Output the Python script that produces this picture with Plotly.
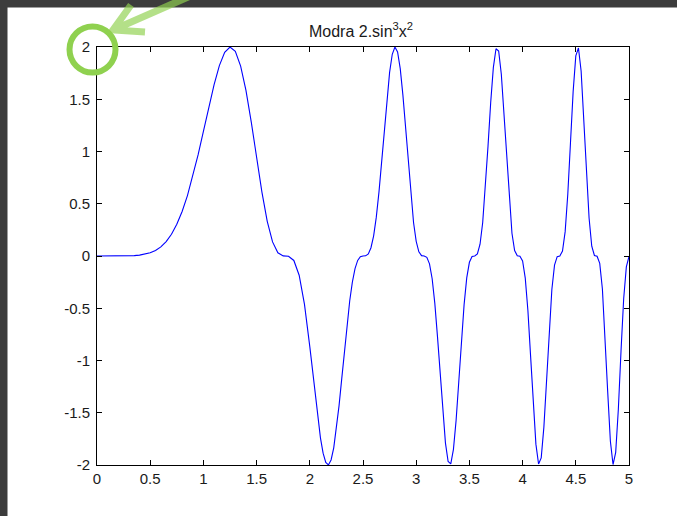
import plotly.graph_objects as go

# ---- data ----
x_left = [0.00, 0.05, 0.10, 0.15, 0.20, 0.25, 0.30, 0.35, 0.40, 0.45,
          0.50, 0.55, 0.60, 0.65, 0.70, 0.75, 0.80, 0.85, 0.90, 0.95,
          1.00, 1.05, 1.10, 1.15, 1.20, 1.25, 1.30, 1.35, 1.40, 1.45,
          1.50, 1.55, 1.60, 1.65, 1.70, 1.75, 1.80, 1.85, 1.90, 1.95, 2.00]
y_left = [0, 0, 0, 0, 0.0001, 0.0005, 0.0015, 0.0037, 0.0081, 0.0163,
          0.0303, 0.0529, 0.0874, 0.1379, 0.2085, 0.3034, 0.4260, 0.5783, 0.7599, 0.9670,
          1.1917, 1.4211, 1.6380, 1.8216, 1.9492, 1.9998, 1.9577, 1.8168, 1.5840, 1.2808,
          0.9421, 0.6113, 0.3316, 0.1348, 0.0309, 0.0010, -0.0019, -0.0426, -0.1840, -0.4626, -0.8669]

x_right = [2.025, 2.05, 2.075, 2.1, 2.125, 2.15, 2.175, 2.2, 2.225, 2.25,
           2.275, 2.3, 2.325, 2.35, 2.375, 2.4, 2.425, 2.45, 2.475, 2.5,
           2.525, 2.55, 2.575, 2.6, 2.625, 2.65, 2.675, 2.7, 2.725, 2.75,
           2.775, 2.8, 2.825, 2.85, 2.875, 2.9, 2.925, 2.95, 2.975, 3.0,
           3.025, 3.05, 3.075, 3.1, 3.125, 3.15, 3.175, 3.2, 3.225, 3.25,
           3.275, 3.3, 3.325, 3.35, 3.375, 3.4, 3.425, 3.45, 3.475, 3.5,
           3.525, 3.55, 3.575, 3.6, 3.625, 3.65, 3.675, 3.7, 3.725, 3.75,
           3.775, 3.8, 3.825, 3.85, 3.875, 3.9, 3.925, 3.95, 3.975, 4.0,
           4.025, 4.05, 4.075, 4.1, 4.125, 4.15, 4.175, 4.2, 4.225, 4.25,
           4.275, 4.3, 4.325, 4.35, 4.375, 4.4, 4.425, 4.45, 4.475, 4.5,
           4.525, 4.55, 4.575, 4.6, 4.625, 4.65, 4.675, 4.7, 4.725, 4.75,
           4.775, 4.8, 4.825, 4.85, 4.875, 4.9, 4.925, 4.95, 4.975, 5.0]
y_right = [-1.0972, -1.3298, -1.5493, -1.7399, -1.8865, -1.9759, -1.9990, -1.9516, -1.8353, -1.6576,
           -1.4320, -1.1760, -0.9102, -0.6554, -0.4304, -0.2495, -0.1203, -0.0425, -0.0077, -0.0001,
           0.0016, 0.0206, 0.0790, 0.1933, 0.3719, 0.6118, 0.8986, 1.2073, 1.5054, 1.7574,
           1.9304, 1.9994, 1.9523, 1.7926, 1.5395, 1.2255, 0.8911, 0.5779, 0.3204, 0.1400,
           0.0397, 0.0036, -0.0001, -0.0125, -0.0747, -0.2177, -0.4536, -0.7713, -1.1361, -1.4956,
           -1.7905, -1.9668, -1.9892, -1.8501, -1.5725, -1.2063, -0.8164, -0.4679, -0.2094, -0.0602,
           -0.0055, 0.0001, 0.0192, 0.1128, 0.3206, 0.6460, 1.0516, 1.4662, 1.8028, 1.9833,
           1.9617, 1.7392, 1.3662, 0.9281, 0.5202, 0.2179, 0.0528, 0.0023, -0.0016, -0.0477,
           -0.2116, -0.5244, -0.9560, -1.4201, -1.8005, -1.9905, -1.9317, -1.6372, -1.1892, -0.7106,
           -0.3201, -0.0871, -0.0059, 0.0008, 0.0473, 0.2332, 0.5953, 1.0832, 1.5732, 1.9144,
           1.9908, 1.7700, 1.3289, 0.8062, 0.3609, 0.0936, 0.0049, -0.0019, -0.0708, -0.3163,
           -0.7588, -1.3028, -1.7733, -1.9953, -1.8785, -1.4643, -0.9092, -0.4094, -0.1037, -0.0046]

x_ticks = [0, 0.5, 1, 1.5, 2, 2.5, 3, 3.5, 4, 4.5, 5]
x_tick_text = ["0", "0.5", "1", "1.5", "2", "2.5", "3", "3.5", "4", "4.5", "5"]
y_ticks = [-2, -1.5, -1, -0.5, 0, 0.5, 1, 1.5, 2]
y_tick_text = ["-2", "-1.5", "-1", "-0.5", "0", "0.5", "1", "1.5", "2"]
title_text = "Modra 2.sin<sup>3</sup>x<sup>2</sup>"

x_vals = x_left + x_right
y_vals = y_left + y_right

# ---- layout geometry ----
W, H = 677, 516
L, R, T, B = 97, 48, 47, 51
PW, PH = W - L - R, H - T - B


def px(xp):
    return (xp - L) / PW


def py(yp):
    return (H - B - yp) / PH


FONT = "Liberation Sans, Arial, sans-serif"

fig = go.Figure()
fig.add_trace(go.Scatter(x=x_vals, y=y_vals, mode="lines",
                         line=dict(color="#0000ff", width=1.1),
                         hoverinfo="skip", showlegend=False))

axis_common = dict(showline=True, linecolor="black", linewidth=1, mirror="ticks",
                   ticks="inside", ticklen=5, tickwidth=1, tickcolor="black",
                   showgrid=False, zeroline=False,
                   tickfont=dict(family=FONT, size=15, color="#1a1a1a"))

fig.update_xaxes(range=[0, 5], tickvals=x_ticks, ticktext=x_tick_text,
                 ticklabelstandoff=0, **axis_common)
fig.update_yaxes(range=[-2, 2], tickvals=y_ticks, ticktext=y_tick_text,
                 ticklabelstandoff=3, **axis_common)

shapes = [
    # dark screenshot borders
    dict(type="rect", xref="paper", yref="paper", x0=px(0), x1=px(W), y0=py(7.5), y1=py(0),
         fillcolor="#3c3c3c", line=dict(width=0), layer="above"),
    dict(type="rect", xref="paper", yref="paper", x0=px(0), x1=px(7.5), y0=py(H), y1=py(0),
         fillcolor="#3c3c3c", line=dict(width=0), layer="above"),
    # green highlight circle
    dict(type="circle", xref="paper", yref="paper",
         x0=px(92.5 - 23), x1=px(92.5 + 23), y0=py(49.5 + 23), y1=py(49.5 - 23),
         line=dict(color="rgb(143,209,79)", width=6), layer="above"),
    # green arrow
    dict(type="path", xref="paper", yref="paper",
         path=(f"M {px(131)},{py(5)} L {px(113)},{py(30)} L {px(145)},{py(32)} "
               f"M {px(113)},{py(30)} L {px(195)},{py(-6)}"),
         line=dict(color="rgba(145,209,80,0.68)", width=7), layer="above"),
]

fig.update_layout(
    width=W, height=H,
    margin=dict(l=L, r=R, t=T, b=B, pad=0),
    paper_bgcolor="white", plot_bgcolor="white",
    title=dict(text=title_text, x=px(361), xanchor="center", xref="paper",
               y=1 - 31 / H, yanchor="middle", yref="container",
               font=dict(family=FONT, size=16, color="#1a1a1a")),
    shapes=shapes,
)

fig.write_html("out.html")
